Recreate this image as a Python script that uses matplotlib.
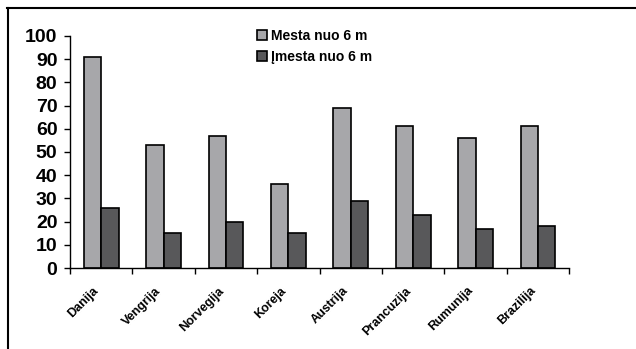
import matplotlib.pyplot as plt
import numpy as np
from matplotlib.lines import Line2D

plt.rcParams['font.family'] = ['Liberation Sans', 'DejaVu Sans']
plt.rcParams['font.weight'] = 'bold'

# countries and the two series
countries = ["Danija", "Vengrija", "Norvegija", "Koreja",
             "Austrija", "Prancuzija", "Rumunija", "Brazilija"]
mesta = [91, 53, 57, 36, 69, 61, 56, 61]
imesta = [26, 15, 20, 15, 29, 23, 17, 18]
series_names = ["Mesta nuo 6 m", "Įmesta nuo 6 m"]

fig = plt.figure(figsize=(6.36, 3.49), dpi=100)
ax = fig.add_axes([0.110, 0.232, 0.785, 0.665])

x = np.arange(len(countries))
w = 0.28
ax.bar(x - w / 2, mesta, w, color="#a7a7aa", edgecolor="black", linewidth=1.2,
       label=series_names[0])
ax.bar(x + w / 2, imesta, w, color="#58585a", edgecolor="black", linewidth=1.2,
       label=series_names[1])

ax.set_xlim(-0.5, len(countries) - 0.5)
ax.set_ylim(0, 100)
ax.set_yticks(range(0, 101, 10))
ax.tick_params(axis="y", labelsize=14, length=4, width=1, pad=5)

# ticks sit between categories, labels under the bars
ax.set_xticks(np.arange(len(countries) + 1) - 0.5)
ax.set_xticklabels([])
ax.tick_params(axis="x", length=4, width=1)
for i, name in enumerate(countries):
    ax.annotate(name, xy=(i, 0), xytext=(-6, -12), textcoords="offset points",
                rotation=45, ha="right", va="top", rotation_mode="anchor",
                fontsize=9, fontweight="bold")

for s in ["top", "right"]:
    ax.spines[s].set_visible(False)
ax.spines["left"].set_linewidth(1)
ax.spines["bottom"].set_linewidth(1)

leg = ax.legend(loc="upper left", bbox_to_anchor=(0.35, 1.085), frameon=False,
                fontsize=10, handlelength=0.7, handleheight=0.7,
                handletextpad=0.3, labelspacing=0.5)

# outer frame: top and left edges
fig.add_artist(Line2D([0.011, 1.0], [0.977, 0.977], color="black", lw=1.5,
                      transform=fig.transFigure))
fig.add_artist(Line2D([0.012, 0.012], [0.0, 0.977], color="black", lw=1.5,
                      transform=fig.transFigure))

fig.savefig("out.png", dpi=100)
